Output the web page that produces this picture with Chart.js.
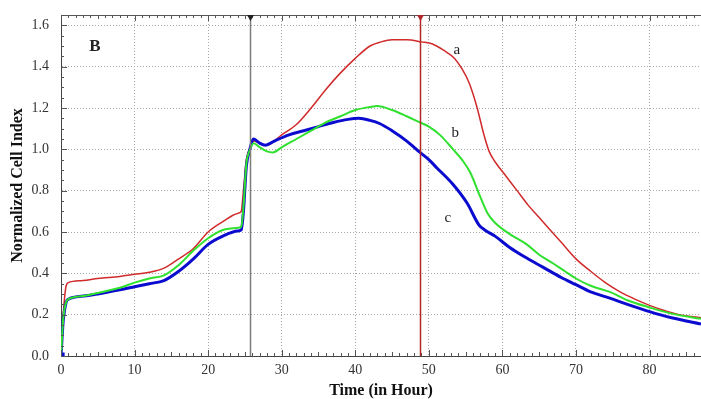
<!DOCTYPE html>
<html lang="en">
<head>
<meta charset="utf-8">
<title>Normalized Cell Index</title>
<script src="https://cdn.jsdelivr.net/npm/chart.js@4.4.1/dist/chart.umd.min.js"></script>
<style>
  * { margin: 0; padding: 0; box-sizing: border-box; }
  body { background: #ffffff; width: 701px; height: 399px; overflow: hidden; }
  #wrap { position: relative; width: 701px; height: 399px; }
</style>
</head>
<body>
<div id="wrap"><canvas id="cellChart" width="701" height="399"></canvas></div>
<script>
// curve a (red)
const timeA = [0, 0.3, 0.7, 1, 3, 5, 8, 10, 12, 14, 16, 18, 20, 22, 24, 24.5, 24.8, 25.2, 25.6, 26.2, 27, 28, 30, 32, 34, 36, 38, 40, 42, 43.5, 45, 47, 49, 50.5, 52, 53.5, 54.5, 55.5, 56.5, 57.5, 58.2, 59, 60.5, 62, 63.5, 65, 66.5, 68, 70, 72, 74, 76, 78, 80, 82, 84, 87];
const indexA = [0, 0.2, 0.34, 0.355, 0.365, 0.375, 0.385, 0.395, 0.405, 0.425, 0.47, 0.52, 0.6, 0.65, 0.69, 0.7, 0.8, 0.95, 1.0, 1.04, 1.03, 1.02, 1.07, 1.12, 1.2, 1.29, 1.37, 1.44, 1.5, 1.52, 1.53, 1.53, 1.52, 1.51, 1.48, 1.44, 1.39, 1.32, 1.21, 1.07, 0.99, 0.94, 0.87, 0.8, 0.73, 0.67, 0.61, 0.55, 0.47, 0.41, 0.355, 0.31, 0.275, 0.245, 0.22, 0.2, 0.185];

// curve b (green)
const timeB = [0, 0.3, 0.7, 1, 3, 5, 8, 10, 12, 14, 16, 18, 20, 22, 24, 24.5, 24.8, 25.2, 25.6, 26.2, 27, 28, 28.8, 30, 32, 34, 36, 38, 40, 42, 43, 45, 47, 48.8, 50, 51.5, 53.3, 54.5, 55.6, 57, 58, 59, 61, 63.3, 65, 66.8, 68.5, 70, 72, 74.6, 77, 80, 83, 87];
const indexB = [0, 0.18, 0.26, 0.275, 0.29, 0.305, 0.33, 0.355, 0.375, 0.39, 0.44, 0.51, 0.57, 0.61, 0.62, 0.625, 0.72, 0.93, 0.99, 1.03, 1.01, 0.99, 0.985, 1.01, 1.05, 1.09, 1.13, 1.16, 1.19, 1.205, 1.21, 1.19, 1.16, 1.13, 1.11, 1.07, 1.0, 0.95, 0.89, 0.77, 0.69, 0.645, 0.59, 0.54, 0.49, 0.45, 0.41, 0.375, 0.34, 0.31, 0.27, 0.235, 0.205, 0.18];

// curve c (blue)
const timeC = [0, 0.3, 0.7, 1, 3, 5, 8, 10, 12, 14, 16, 18, 20, 22, 24, 24.5, 24.8, 25.2, 25.6, 26.2, 27, 27.8, 29, 31, 33, 35, 37, 39, 40.5, 42, 43.3, 45, 47, 48.8, 50, 51.1, 53.3, 55.2, 56.8, 57.6, 59, 61, 63, 65.5, 68, 70, 72, 74.6, 77, 80, 83, 87];
const indexC = [0, 0.17, 0.26, 0.275, 0.29, 0.3, 0.32, 0.335, 0.35, 0.365, 0.41, 0.47, 0.54, 0.58, 0.605, 0.61, 0.7, 0.92, 0.99, 1.05, 1.03, 1.02, 1.04, 1.07, 1.09, 1.11, 1.13, 1.145, 1.15, 1.14, 1.125, 1.09, 1.04, 0.985, 0.95, 0.91, 0.83, 0.74, 0.635, 0.61, 0.58, 0.525, 0.48, 0.43, 0.38, 0.345, 0.31, 0.28, 0.25, 0.215, 0.185, 0.155];

// vertical event markers (hours)
const markerTimes = [25.7, 48.8];
const markerColors = ["#7d7d7d", "#b02828"];

const serif = "'Liberation Serif', 'Times New Roman', serif";

function toPoints(t, v) {
  return t.map((x, i) => ({ x: x, y: v[i] }));
}

// frame ticks, marker lines and the a/b/c, B labels
const frameTicks = {
  id: "frameTicks",
  afterDatasetsDraw(chart, args, opts) {
    const { ctx, chartArea: a, scales: { x, y } } = chart;
    ctx.save();
    ctx.strokeStyle = "#555";
    ctx.lineWidth = 1;
    ctx.beginPath();
    ctx.moveTo(a.left, a.top + 0.5);
    ctx.lineTo(a.right, a.top + 0.5);
    for (let h = 0; h <= x.max; h++) {
      const px = Math.round(x.getPixelForValue(h)) + 0.5;
      const len = h % 10 === 0 ? 6 : (h % 5 === 0 ? 4 : 3);
      ctx.moveTo(px, a.bottom);
      ctx.lineTo(px, a.bottom - len);
      ctx.moveTo(px, a.top);
      ctx.lineTo(px, a.top + len);
    }
    for (let k = 0; k * 0.05 <= y.max; k++) {
      const py = Math.round(y.getPixelForValue(k * 0.05)) + 0.5;
      const len = k % 4 === 0 ? 6 : 3;
      ctx.moveTo(a.left, py);
      ctx.lineTo(a.left + len, py);
    }
    ctx.stroke();

    markerTimes.forEach((t, i) => {
      const px = Math.round(x.getPixelForValue(t)) + 0.5;
      ctx.strokeStyle = markerColors[i];
      ctx.lineWidth = 1.5;
      ctx.beginPath();
      ctx.moveTo(px, a.top);
      ctx.lineTo(px, a.bottom);
      ctx.stroke();
      ctx.fillStyle = i === 0 ? "#222" : markerColors[i];
      ctx.beginPath();
      ctx.moveTo(px - 3.5, a.top);
      ctx.lineTo(px + 3.5, a.top);
      ctx.lineTo(px, a.top + 6);
      ctx.closePath();
      ctx.fill();
    });

    ctx.textAlign = "center";
    ctx.textBaseline = "middle";
    ctx.fillStyle = "#222";
    opts.labels.forEach(l => {
      ctx.font = l.font;
      ctx.fillText(l.text, x.getPixelForValue(l.x), y.getPixelForValue(l.y));
    });
    ctx.restore();
  }
};

new Chart(document.getElementById("cellChart"), {
  type: "line",
  plugins: [frameTicks],
  data: {
    datasets: [
      {
        label: "b",
        data: toPoints(timeB, indexB),
        borderColor: "#2fe02f",
        borderWidth: 2,
        pointRadius: 0
      },
      {
        label: "c",
        data: toPoints(timeC, indexC),
        borderColor: "#0b0bd0",
        borderWidth: 3,
        pointStyle: "rect",
        backgroundColor: "#0b0bd0",
        pointRadius: ctx => ctx.dataIndex === 0 ? 3 : 0
      },
      {
        label: "a",
        data: toPoints(timeA, indexA),
        borderColor: "#d02a2a",
        borderWidth: 1.5,
        pointRadius: 0
      }
    ]
  },
  options: {
    responsive: false,
    animation: false,
    cubicInterpolationMode: "monotone",
    layout: { autoPadding: false, padding: { top: 15, right: 0, left: 0, bottom: 0 } },
    plugins: {
      legend: { display: false },
      tooltip: { enabled: false },
      frameTicks: {
        labels: [
          { text: "B", x: 4.6, y: 1.495, font: "bold 17px " + serif },
          { text: "a", x: 53.8, y: 1.478, font: "15px " + serif },
          { text: "b", x: 53.6, y: 1.08, font: "15px " + serif },
          { text: "c", x: 52.6, y: 0.667, font: "15px " + serif }
        ]
      }
    },
    scales: {
      x: {
        type: "linear",
        min: 0,
        max: 87,
        afterFit: s => { s.height = 43; s.paddingLeft = 0; s.paddingRight = 0; },
        grid: { color: "#a8a8a8", drawTicks: false },
        border: { color: "#444", dash: [1, 2] },
        ticks: {
          stepSize: 10,
          includeBounds: false,
          padding: 6,
          color: "#333",
          font: { family: serif, size: 14 }
        },
        title: {
          display: true,
          text: "Time (in Hour)",
          color: "#111",
          font: { family: serif, size: 16, weight: "bold", lineHeight: 1 },
          padding: { top: 0, bottom: 0 }
        }
      },
      y: {
        min: 0,
        max: 1.65,
        afterFit: s => { s.width = 61; s.paddingTop = 0; s.paddingBottom = 0; },
        grid: { color: "#a8a8a8", drawTicks: false },
        border: { color: "#444", dash: [1, 2] },
        ticks: {
          stepSize: 0.2,
          includeBounds: false,
          padding: 12,
          color: "#333",
          font: { family: serif, size: 14 },
          callback: v => v.toFixed(1)
        },
        title: {
          display: true,
          text: "Normalized Cell Index",
          color: "#111",
          font: { family: serif, size: 16, weight: "bold", lineHeight: 1 },
          padding: { top: 10, bottom: 0 }
        }
      }
    }
  }
});
</script>
</body>
</html>
